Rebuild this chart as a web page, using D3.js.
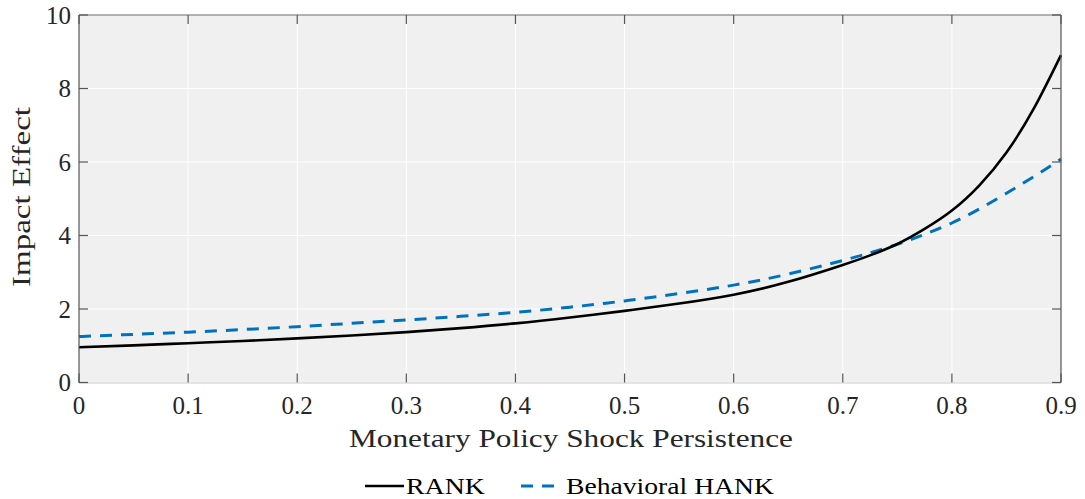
<!DOCTYPE html>
<html><head><meta charset="utf-8">
<script src="https://cdn.jsdelivr.net/npm/d3@7"></script>
<style>body{margin:0;background:#fff}svg{display:block}</style>
</head><body>
<svg id="c" width="1085" height="499"></svg>
<script>
const persistence = [0,0.05,0.1,0.15,0.2,0.25,0.3,0.35,0.4,0.45,0.5,0.55,0.6,0.65,0.7,0.725,0.75,0.775,0.8,0.825,0.85,0.875,0.9];
const rank =        [0.96,1.01,1.07,1.13,1.20,1.28,1.37,1.48,1.61,1.77,1.95,2.15,2.39,2.74,3.20,3.46,3.77,4.18,4.68,5.36,6.26,7.45,8.91];
const hank =        [1.25,1.31,1.37,1.44,1.52,1.61,1.70,1.80,1.91,2.05,2.22,2.42,2.65,2.95,3.32,3.53,3.76,4.03,4.34,4.72,5.15,5.60,6.08];
const xTicks = [0,0.1,0.2,0.3,0.4,0.5,0.6,0.7,0.8,0.9];
const yTicks = [0,2,4,6,8,10];
const seriesNames = ["RANK","Behavioral HANK"];

const FONT = "'Liberation Serif', 'DejaVu Serif', serif";
const svg = d3.select("#c");
const L=79, R=1061, T=15, B=382.5;
const x = d3.scaleLinear().domain([0,0.9]).range([L,R]);
const y = d3.scaleLinear().domain([0,10]).range([B,T]);

svg.append("rect").attr("x",L).attr("y",T).attr("width",R-L).attr("height",B-T).attr("fill","#f0f0f0");
// grid
svg.append("g").selectAll("line").data(xTicks.slice(1,-1)).join("line")
  .attr("x1",d=>x(d)).attr("x2",d=>x(d)).attr("y1",T).attr("y2",B).attr("stroke","#fff").attr("stroke-width",1);
svg.append("g").selectAll("line").data(yTicks.slice(1,-1)).join("line")
  .attr("y1",d=>y(d)).attr("y2",d=>y(d)).attr("x1",L).attr("x2",R).attr("stroke","#fff").attr("stroke-width",1);

// lines
const lineGen = vals => d3.line().x((d,i)=>x(persistence[i])).y(d=>y(d)).curve(d3.curveNatural)(vals);
svg.append("path").attr("d",lineGen(hank)).attr("fill","none").attr("stroke","#0072BD").attr("stroke-width",3).attr("stroke-dasharray","12,9");
svg.append("path").attr("d",lineGen(rank)).attr("fill","none").attr("stroke","#000").attr("stroke-width",2.6);

// box
svg.append("line").attr("x1",L).attr("x2",R).attr("y1",T).attr("y2",T).attr("stroke","#9a9a9a").attr("stroke-width",1.5);
svg.append("line").attr("x1",L).attr("x2",R).attr("y1",B+0.5).attr("y2",B+0.5).attr("stroke","#dcdcdc").attr("stroke-width",1.5);
svg.append("line").attr("x1",L).attr("x2",L).attr("y1",T).attr("y2",B).attr("stroke","#555").attr("stroke-width",1.2);
svg.append("line").attr("x1",R).attr("x2",R).attr("y1",T).attr("y2",B).attr("stroke","#555").attr("stroke-width",1.2);

// ticks
const tk = svg.append("g").attr("stroke","#555").attr("stroke-width",1.2);
xTicks.forEach(t=>{ tk.append("line").attr("x1",x(t)).attr("x2",x(t)).attr("y1",B).attr("y2",B-9);
  tk.append("line").attr("x1",x(t)).attr("x2",x(t)).attr("y1",T).attr("y2",T+9);});
yTicks.forEach(t=>{ tk.append("line").attr("y1",y(t)).attr("y2",y(t)).attr("x1",L).attr("x2",L+9);
  tk.append("line").attr("y1",y(t)).attr("y2",y(t)).attr("x1",R).attr("x2",R-9);});

// tick labels
svg.append("g").selectAll("text").data(xTicks).join("text")
  .attr("x",d=>x(d)).attr("y",414).attr("text-anchor","middle")
  .attr("font-family",FONT).attr("font-size",25).attr("fill","#262626").text(d=>d===0?"0":d3.format(".1f")(d));
svg.append("g").selectAll("text").data(yTicks).join("text")
  .attr("x",71).attr("y",d=>y(d)).attr("dy","0.35em").attr("text-anchor","end")
  .attr("font-family",FONT).attr("font-size",25).attr("fill","#262626").text(d=>d);

function stretch(sel, w){ sel.attr("textLength", w).attr("lengthAdjust","spacingAndGlyphs"); }

const xt = svg.append("text").attr("x",349).attr("y",447)
  .attr("font-family",FONT).attr("font-size",25).attr("fill","#262626").text("Monetary Policy Shock Persistence");
stretch(xt, 444);
const yt = svg.append("g").attr("transform","translate(30,287) rotate(-90)").append("text").attr("x",0).attr("y",0)
  .attr("font-family",FONT).attr("font-size",25).attr("fill","#262626").text("Impact Effect");
stretch(yt, 180);

// legend
const ly=486;
svg.append("line").attr("x1",365).attr("x2",404).attr("y1",ly).attr("y2",ly).attr("stroke","#000").attr("stroke-width",2.6);
const t1 = svg.append("text").attr("x",406).attr("y",494).attr("font-family",FONT).attr("font-size",24).attr("fill","#000").text(seriesNames[0]);
stretch(t1, 79);
svg.append("line").attr("x1",521).attr("x2",554).attr("y1",ly).attr("y2",ly).attr("stroke","#0072BD").attr("stroke-width",3).attr("stroke-dasharray","12,9");
const t2 = svg.append("text").attr("x",566).attr("y",494).attr("font-family",FONT).attr("font-size",24).attr("fill","#000").text(seriesNames[1]);
stretch(t2, 208);
</script>
</body></html>
